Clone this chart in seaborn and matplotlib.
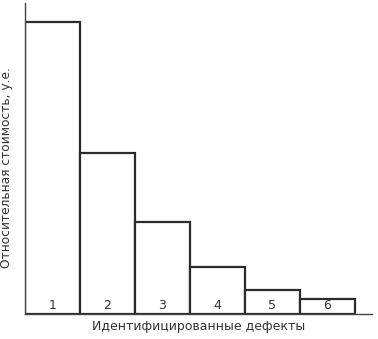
import matplotlib
matplotlib.use("Agg")
import matplotlib.pyplot as plt
import seaborn as sns
import pandas as pd
from matplotlib import transforms

categories = ["1", "2", "3", "4", "5", "6"]
values = [100, 55, 31.5, 16, 8.2, 5.1]
xlabel = "Идентифицированные дефекты"
ylabel = "Относительная стоимость, у.е."

sns.set_style("white")
plt.rcParams["font.family"] = ["DejaVu Sans"]

df = pd.DataFrame({"defect": categories, "cost": values})

fig = plt.figure(figsize=(3.78, 3.39), dpi=100)
ax = fig.add_axes([0.0661, 0.0737, 0.918, 0.917])

sns.barplot(data=df, x="defect", y="cost", ax=ax, color="white",
            edgecolor="#2b2b2b", linewidth=1.6, width=1.0, saturation=1)

ax.set_xlim(-0.5, 5.81)
ax.set_ylim(0, 106.5)
ax.set_xticks([])
ax.set_yticks([])
for s in ["top", "right"]:
    ax.spines[s].set_visible(False)
for s in ["left", "bottom"]:
    ax.spines[s].set_color("#444444")
    ax.spines[s].set_linewidth(1.0)

trans = transforms.blended_transform_factory(ax.transData, ax.transAxes)
for i, c in enumerate(categories):
    ax.text(i, 0.006, c, transform=trans, ha="center", va="bottom",
            fontsize=9, color="#333333")

ax.set_xlabel(xlabel, fontsize=9, color="#333333", labelpad=4)
ax.set_ylabel(ylabel, fontsize=8.8, color="#333333")
ax.yaxis.set_label_coords(-0.034, 0.47)

fig.savefig("out.png", dpi=100, facecolor="white")
